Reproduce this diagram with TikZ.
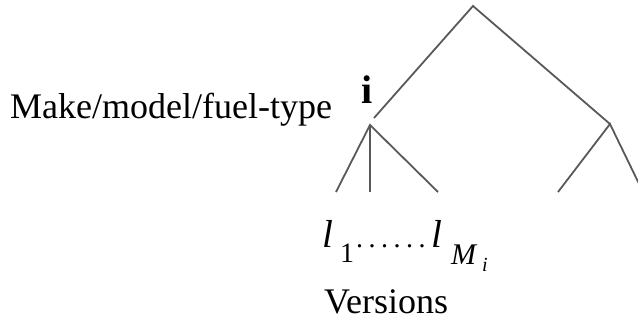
\documentclass[tikz,border=0pt]{standalone}
\usepackage{fontspec}
\setmainfont{Liberation Serif}
\usetikzlibrary{positioning}

\begin{document}
\begin{tikzpicture}[
    x=1pt, y=-1pt,
    branch/.style={draw=black!65, line width=1.8pt},
    lbl/.style={inner sep=0pt, anchor=base west,
                font=\fontsize{36}{38}\selectfont},
    leaf/.style={inner sep=0pt, anchor=base west,
                 font=\fontsize{39}{41}\selectfont\itshape},
    sub/.style={inner sep=0pt, anchor=base west,
                font=\fontsize{28}{30}\selectfont}
  ]
  \useasboundingbox (0,0) rectangle (638,331);
  \clip (0,0) rectangle (638,331);

  % tree
  \coordinate (root) at (473,6);
  \coordinate (itop) at (374,118);
  \coordinate (inode) at (370,125);
  \coordinate (rnode) at (610,124);
  \coordinate (c1) at (336,192);
  \coordinate (c2) at (370,192);
  \coordinate (c3) at (438,192);
  \coordinate (r1) at (558,192);
  \coordinate (r2) at (643,192);

  \draw[branch] (itop) -- (root) -- (rnode);
  \draw[branch] (c1) -- (inode) -- (c3);
  \draw[branch] (inode) -- (c2);
  \draw[branch] (r1) -- (rnode) -- (r2);

  % labels
  \node[lbl] (make) at (10,119) {Make/model/fuel-type};
  \node[lbl, font=\fontsize{40}{42}\selectfont\bfseries] (ilbl) at (361,104) {i};
  \node[leaf] (lfirst) at (322,248) {l};
  \node[sub] (one) at (340,263) {1};
  \node[sub] (dots) at (356,248) {.\hspace{5.5pt}.\hspace{5.5pt}.\hspace{5.5pt}.\hspace{5.5pt}.\hspace{5.5pt}.};
  \node[leaf] (llast) at (431,248) {l};
  \node[sub, font=\fontsize{30}{32}\selectfont\itshape] (msub) at (451,265) {M};
  \node[sub, font=\fontsize{20}{22}\selectfont\itshape] (isub) at (482,272) {i};
  \node[lbl] (versions) at (324,314) {Versions};
\end{tikzpicture}
\end{document}
